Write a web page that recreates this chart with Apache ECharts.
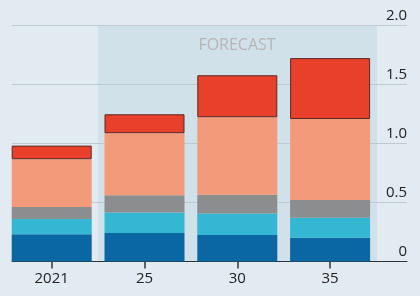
<!DOCTYPE html>
<html>
<head>
<meta charset="utf-8">
<script src="https://cdn.jsdelivr.net/npm/echarts@6/dist/echarts.min.js"></script>
<style>
  html, body { margin: 0; padding: 0; background: #e3ebf2; }
  #chart { width: 420px; height: 296px; }
</style>
</head>
<body>
<div id="chart"></div>
<script>
// stacked segments, bottom to top
const years = ['2021', '25', '30', '35']
const tickLabels = ['0', '0.5', '1.0', '1.5', '2.0']
const darkBlue = [0.23, 0.24, 0.225, 0.20]
const lightBlue = [0.13, 0.175, 0.18, 0.17]
const grey = [0.10, 0.145, 0.16, 0.15]
const salmon = [0.405, 0.525, 0.655, 0.685]
const red = [0.115, 0.16, 0.355, 0.515]

const font = '"Open Sans", "Noto Sans", sans-serif'

function seg (name, data, color, border) {
  return {
    name: name,
    type: 'bar',
    stack: 'total',
    xAxisIndex: 0,
    yAxisIndex: 0,
    barWidth: 80,
    data: data,
    itemStyle: border
      ? { color: color, borderColor: '#5a2823', borderWidth: 1 }
      : { color: color },
    z: 3,
    silent: true
  }
}

const myChart = echarts.init(document.getElementById('chart'))

const option = {
  backgroundColor: '#e3ebf2',
  animation: false,
  grid: [
    // bars
    { left: 5.3, right: 43.5, top: 25, bottom: 34.5 },
    // gridlines, axis line, labels on the right
    { left: 12, right: 13, top: 25, bottom: 34.5 }
  ],
  xAxis: [
    {
      type: 'category',
      gridIndex: 0,
      data: years,
      axisLine: { show: false },
      axisTick: { show: true, alignWithLabel: true, length: 7, lineStyle: { color: '#333', width: 1.5 } },
      axisLabel: { color: '#222', fontSize: 15, fontFamily: font, margin: 10 }
    },
    {
      type: 'value',
      gridIndex: 1,
      min: 0,
      max: 1,
      axisLine: { show: true, onZero: false, lineStyle: { color: '#333', width: 1 } },
      axisTick: { show: false },
      axisLabel: { show: false },
      splitLine: { show: false }
    }
  ],
  yAxis: [
    {
      type: 'value',
      gridIndex: 0,
      min: 0,
      max: 2,
      interval: 0.5,
      show: false
    },
    {
      type: 'value',
      gridIndex: 1,
      min: 0,
      max: 2,
      interval: 0.5,
      position: 'right',
      axisLine: { show: false },
      axisTick: { show: false },
      splitLine: { show: true, lineStyle: { color: '#bfc9d0', width: 1 } },
      axisLabel: {
        inside: true,
        margin: 0,
        align: 'right',
        verticalAlign: 'bottom',
        padding: [0, 0, 2, 0],
        color: '#222',
        fontSize: 15,
        fontFamily: font,
        formatter: function (v) {
          return tickLabels[Math.round(v / 0.5)]
        }
      }
    }
  ],
  graphic: [
    {
      type: 'rect',
      z: -10,
      silent: true,
      shape: { x: 98, y: 25, width: 279, height: 237 },
      style: { fill: '#d0e1ea' }
    },
    {
      type: 'text',
      z: -5,
      silent: true,
      x: 237,
      y: 45,
      style: {
        text: 'FORECAST',
        fill: '#b7b5b4',
        font: '16px ' + font,
        align: 'center',
        verticalAlign: 'middle'
      }
    }
  ],
  series: [
    seg('dark blue', darkBlue, '#0b67a3'),
    seg('light blue', lightBlue, '#33b7d3'),
    seg('grey', grey, '#8b8d8f'),
    seg('salmon', salmon, '#f39a7b'),
    seg('red', red, '#e8402b', true)
  ]
}

myChart.setOption(option)
</script>
</body>
</html>
